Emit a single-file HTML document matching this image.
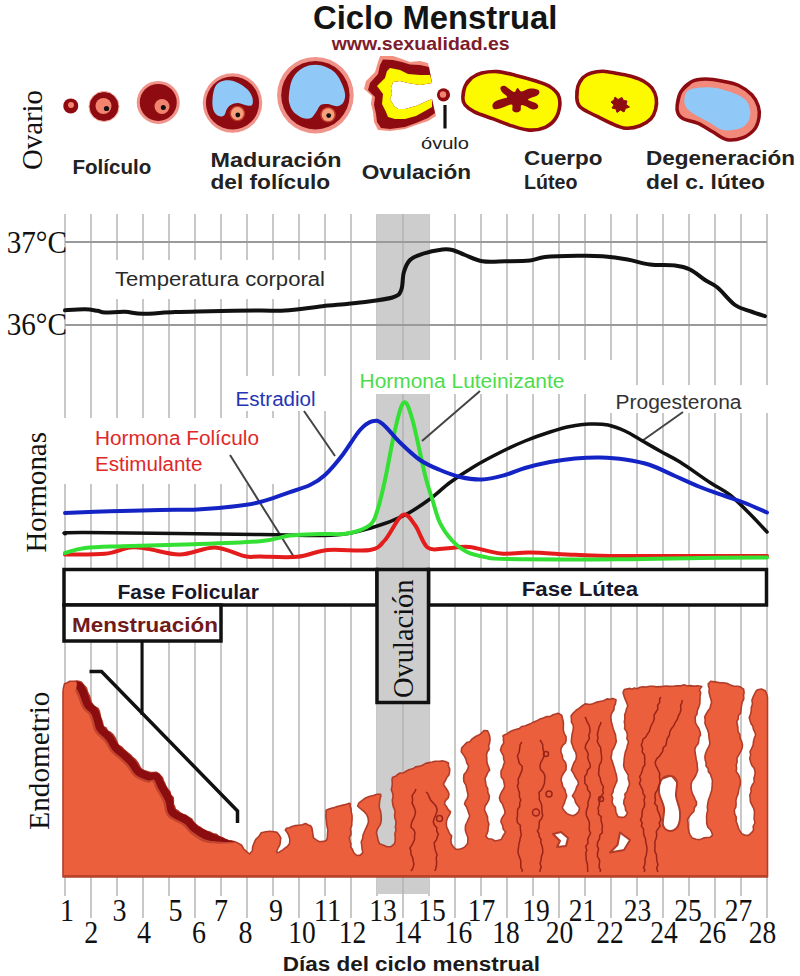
<!DOCTYPE html>
<html><head><meta charset="utf-8"><style>html,body{margin:0;padding:0;background:#fff;}svg{display:block;}</style></head>
<body><svg width="800" height="976" viewBox="0 0 800 976">
<rect width="800" height="976" fill="#fff"/>
<g stroke="#c6c6c6" stroke-width="1.9">
<line x1="65" y1="214" x2="65" y2="896"/>
<line x1="91" y1="214" x2="91" y2="918"/>
<line x1="117" y1="214" x2="117" y2="896"/>
<line x1="143" y1="214" x2="143" y2="918"/>
<line x1="169" y1="214" x2="169" y2="896"/>
<line x1="195" y1="214" x2="195" y2="918"/>
<line x1="221" y1="214" x2="221" y2="896"/>
<line x1="247" y1="214" x2="247" y2="918"/>
<line x1="273" y1="214" x2="273" y2="896"/>
<line x1="299" y1="214" x2="299" y2="918"/>
<line x1="325" y1="214" x2="325" y2="896"/>
<line x1="351" y1="214" x2="351" y2="918"/>
<line x1="377" y1="214" x2="377" y2="896"/>
<line x1="403" y1="214" x2="403" y2="918"/>
<line x1="429" y1="214" x2="429" y2="896"/>
<line x1="455" y1="214" x2="455" y2="918"/>
<line x1="481" y1="214" x2="481" y2="896"/>
<line x1="507" y1="214" x2="507" y2="918"/>
<line x1="533" y1="214" x2="533" y2="896"/>
<line x1="559" y1="214" x2="559" y2="918"/>
<line x1="585" y1="214" x2="585" y2="896"/>
<line x1="611" y1="214" x2="611" y2="918"/>
<line x1="637" y1="214" x2="637" y2="896"/>
<line x1="663" y1="214" x2="663" y2="918"/>
<line x1="689" y1="214" x2="689" y2="896"/>
<line x1="715" y1="214" x2="715" y2="918"/>
<line x1="741" y1="214" x2="741" y2="896"/>
<line x1="767" y1="214" x2="767" y2="918"/>
</g>
<rect x="377" y="214" width="52" height="146" fill="#cdcdcd"/>
<rect x="377" y="394" width="52" height="500" fill="#cdcdcd"/>
<line x1="403" y1="214" x2="403" y2="894" stroke="#b4b4b4" stroke-width="1.6"/>
<g fill="#fff">
<rect x="355" y="360" width="270" height="34"/>
<rect x="230" y="376" width="100" height="35"/>
<rect x="62" y="418" width="224" height="66"/>
<rect x="600" y="385" width="172" height="28"/>
<rect x="105" y="260" width="236" height="39"/>
</g>
<line x1="65" y1="242" x2="767" y2="242" stroke="#9a9a9a" stroke-width="2.2"/>
<line x1="65" y1="325" x2="767" y2="325" stroke="#9a9a9a" stroke-width="2.2"/>
<path d="M65.0,310.3 C68.3,310.1 79.6,309.2 85.0,309.3 C90.4,309.4 94.2,310.3 97.5,310.8 C100.8,311.3 100.4,312.3 105.0,312.5 C109.6,312.7 118.8,311.6 125.0,311.8 C131.2,312.0 134.2,313.7 142.5,313.8 C150.8,313.8 163.8,312.4 175.0,312.0 C186.2,311.6 195.8,311.5 210.0,311.2 C224.2,311.0 247.5,310.6 260.0,310.5 C272.5,310.4 274.6,311.2 285.0,310.5 C295.4,309.8 310.0,307.6 322.5,306.2 C335.0,304.9 348.3,304.0 360.0,302.5 C371.7,301.0 385.6,299.6 392.5,297.5 C399.4,295.4 399.4,294.2 401.2,290.0 C403.1,285.8 402.3,277.5 403.8,272.5 C405.2,267.5 406.9,263.1 410.0,260.0 C413.1,256.9 417.1,255.5 422.5,253.8 C427.9,252.0 437.5,250.1 442.5,249.5 C447.5,248.9 448.8,249.1 452.5,250.0 C456.2,250.9 460.0,253.1 465.0,255.0 C470.0,256.9 475.8,260.2 482.5,261.2 C489.2,262.3 497.1,261.4 505.0,261.2 C512.9,261.1 523.3,261.2 530.0,260.5 C536.7,259.8 537.1,257.8 545.0,257.0 C552.9,256.2 567.9,255.9 577.5,255.8 C587.1,255.6 594.2,255.6 602.5,256.2 C610.8,256.9 619.6,258.1 627.5,259.5 C635.4,260.9 642.1,263.5 650.0,264.5 C657.9,265.5 668.3,264.7 675.0,265.5 C681.7,266.3 685.0,267.1 690.0,269.5 C695.0,271.9 700.4,277.0 705.0,280.0 C709.6,283.0 712.5,283.3 717.5,287.5 C722.5,291.7 729.6,301.0 735.0,305.0 C740.4,309.0 745.0,309.4 750.0,311.2 C755.0,313.1 762.5,315.4 765.0,316.2" fill="none" stroke="#111" stroke-width="4" stroke-linecap="round" stroke-linejoin="round"/>
<g stroke="#444" stroke-width="2">
<line x1="304" y1="411" x2="335" y2="456"/>
<line x1="230" y1="455" x2="294" y2="557"/>
<line x1="480" y1="391" x2="422" y2="441"/>
<line x1="683" y1="412" x2="642" y2="441"/>
</g>
<path d="M65.0,533.8 C68.3,533.5 52.5,532.4 85.0,532.5 C117.5,532.6 218.3,534.1 260.0,534.5 C301.7,534.9 316.2,536.2 335.0,535.0 C353.8,533.8 360.8,530.8 372.5,527.5 C384.2,524.2 395.4,519.8 405.0,515.0 C414.6,510.2 422.5,504.4 430.0,499.0 C437.5,493.6 442.5,488.0 450.0,482.5 C457.5,477.0 466.7,471.0 475.0,466.0 C483.3,461.0 491.7,456.7 500.0,452.5 C508.3,448.3 516.7,444.4 525.0,441.0 C533.3,437.6 542.5,434.4 550.0,432.0 C557.5,429.6 563.3,427.8 570.0,426.5 C576.7,425.2 583.7,424.2 590.0,424.0 C596.3,423.8 602.2,423.8 608.0,425.0 C613.8,426.2 619.7,428.6 625.0,431.0 C630.3,433.4 634.2,436.2 640.0,439.5 C645.8,442.8 653.3,447.2 660.0,451.0 C666.7,454.8 671.7,456.8 680.0,462.0 C688.3,467.2 701.7,477.0 710.0,482.5 C718.3,488.0 723.3,489.8 730.0,495.0 C736.7,500.2 743.8,507.8 750.0,514.0 C756.2,520.2 764.2,529.0 767.0,532.0" fill="none" stroke="#111" stroke-width="3.5" stroke-linecap="round" stroke-linejoin="round"/>
<path d="M65.0,554.5 C71.7,554.4 94.2,554.9 105.0,553.8 C115.8,552.6 122.9,548.3 130.0,547.5 C137.1,546.7 139.2,547.6 147.5,548.8 C155.8,549.9 168.8,554.7 180.0,554.5 C191.2,554.3 204.2,547.2 215.0,547.5 C225.8,547.8 237.5,554.8 245.0,556.2 C252.5,557.8 251.2,556.4 260.0,556.5 C268.8,556.6 286.2,557.8 297.5,556.8 C308.8,555.7 315.4,551.1 327.5,550.0 C339.6,548.9 360.4,551.7 370.0,550.0 C379.6,548.3 379.6,545.8 385.0,540.0 C390.4,534.2 397.5,517.5 402.5,515.0 C407.5,512.5 410.8,519.6 415.0,525.0 C419.2,530.4 422.5,543.6 427.5,547.5 C432.5,551.4 438.1,548.6 445.0,548.5 C451.9,548.4 459.7,546.2 469.0,547.0 C478.3,547.8 490.6,552.6 500.8,553.5 C510.9,554.4 517.6,552.3 530.0,552.5 C542.4,552.7 560.0,554.2 575.0,554.8 C590.0,555.3 588.0,555.8 620.0,556.0 C652.0,556.2 742.5,556.0 767.0,556.0" fill="none" stroke="#e41c1c" stroke-width="4" stroke-linecap="round" stroke-linejoin="round"/>
<path d="M65.0,553.0 C68.3,552.2 75.4,549.1 85.0,548.0 C94.6,546.9 105.8,546.8 122.5,546.2 C139.2,545.7 162.1,545.3 185.0,544.5 C207.9,543.7 242.5,542.8 260.0,541.2 C277.5,539.8 280.0,536.7 290.0,535.5 C300.0,534.3 310.4,534.3 320.0,534.0 C329.6,533.7 339.2,535.0 347.5,533.5 C355.8,532.0 365.0,528.9 370.0,525.0 C375.0,521.1 375.0,517.5 377.5,510.0 C380.0,502.5 382.1,493.3 385.0,480.0 C387.9,466.7 391.9,442.9 395.0,430.0 C398.1,417.1 400.8,404.2 403.8,402.5 C406.7,400.8 409.0,407.9 412.5,420.0 C416.0,432.1 421.7,461.7 425.0,475.0 C428.3,488.3 430.0,492.0 432.5,500.0 C435.0,508.0 436.7,516.2 440.0,523.0 C443.3,529.8 448.0,536.2 452.5,541.0 C457.0,545.8 461.6,549.3 467.0,552.0 C472.4,554.7 478.2,555.8 485.0,557.0 C491.8,558.2 485.0,558.6 507.5,559.0 C530.0,559.4 587.9,559.4 620.0,559.2 C652.1,559.1 675.5,558.3 700.0,558.0 C724.5,557.7 755.8,557.6 767.0,557.5" fill="none" stroke="#33e033" stroke-width="4" stroke-linecap="round" stroke-linejoin="round"/>
<path d="M65.0,513.0 C72.5,512.7 94.2,511.8 110.0,511.2 C125.8,510.8 145.4,510.3 160.0,510.0 C174.6,509.7 185.0,510.1 197.5,509.5 C210.0,508.9 224.6,507.5 235.0,506.2 C245.4,505.0 251.7,504.1 260.0,502.0 C268.3,499.9 276.7,496.6 285.0,493.8 C293.3,490.9 303.3,488.1 310.0,485.0 C316.7,481.9 319.6,480.0 325.0,475.0 C330.4,470.0 336.7,462.5 342.5,455.0 C348.3,447.5 355.0,435.6 360.0,430.0 C365.0,424.4 368.8,422.3 372.5,421.2 C376.2,420.2 377.9,420.2 382.5,423.8 C387.1,427.3 393.8,436.5 400.0,442.5 C406.2,448.5 413.3,455.4 420.0,460.0 C426.7,464.6 433.3,467.2 440.0,470.0 C446.7,472.8 453.0,475.4 460.0,477.0 C467.0,478.6 474.5,479.8 482.0,479.5 C489.5,479.2 497.8,476.9 505.0,475.0 C512.2,473.1 517.5,470.2 525.0,468.0 C532.5,465.8 541.7,463.6 550.0,462.0 C558.3,460.4 566.7,459.2 575.0,458.5 C583.3,457.8 591.7,457.3 600.0,457.5 C608.3,457.7 616.7,458.2 625.0,459.5 C633.3,460.8 641.7,462.2 650.0,465.0 C658.3,467.8 666.7,472.3 675.0,476.0 C683.3,479.7 691.7,483.7 700.0,487.0 C708.3,490.3 717.5,493.3 725.0,496.0 C732.5,498.7 738.0,500.2 745.0,503.0 C752.0,505.8 763.3,510.9 767.0,512.5" fill="none" stroke="#1424c4" stroke-width="4" stroke-linecap="round" stroke-linejoin="round"/>
<g stroke="#111" stroke-width="3.5" fill="#fff">
<rect x="64" y="569.5" width="313" height="35.5"/>
<rect x="428.5" y="569.5" width="338" height="35.5"/>
<rect x="64" y="605" width="157" height="36"/>
<rect x="377" y="569.5" width="51.5" height="133" fill="#cdcdcd"/>
</g>
<line x1="142" y1="641" x2="142" y2="715" stroke="#111" stroke-width="3"/>
<polyline points="89.5,671.5 101.5,671.5 237.5,811 237.5,823" fill="none" stroke="#111" stroke-width="3.5"/>
<text x="117.5" y="598.5" font-family='"Liberation Sans", sans-serif' font-size="20.5" font-weight="bold" fill="#17172a" text-anchor="start" textLength="141.5" lengthAdjust="spacingAndGlyphs" >Fase Folicular</text>
<text x="521.7" y="595.7" font-family='"Liberation Sans", sans-serif' font-size="20.5" font-weight="bold" fill="#17172a" text-anchor="start" textLength="116.5" lengthAdjust="spacingAndGlyphs" >Fase Lútea</text>
<text x="72" y="632.3" font-family='"Liberation Sans", sans-serif' font-size="21" font-weight="bold" fill="#701a1a" text-anchor="start" textLength="146" lengthAdjust="spacingAndGlyphs" >Menstruación</text>
<text transform="translate(412.5,698) rotate(-90)" x="0" y="0" font-family='"Liberation Serif", serif' font-size="30" fill="#111" textLength="118.5" lengthAdjust="spacingAndGlyphs">Ovulación</text>
<path d="M63.0,692.0 L63.4,688.1 L64.5,683.7 L67.2,682.8 L69.9,681.3 L73.7,681.3 L77.5,681.0 L81.2,682.0 L83.7,685.0 L86.4,688.0 L87.6,692.5 L89.3,695.6 L90.4,699.1 L91.3,702.4 L94.0,706.1 L98.0,708.4 L99.4,711.3 L100.0,714.6 L100.6,717.7 L101.8,720.4 L102.7,723.3 L103.1,726.6 L106.1,727.9 L107.5,731.0 L110.6,732.5 L113.0,734.7 L115.2,738.0 L116.8,741.6 L118.4,745.3 L121.9,747.3 L124.5,750.2 L127.4,752.7 L130.3,754.8 L132.6,757.5 L135.5,759.6 L137.7,762.6 L139.4,765.9 L141.1,769.0 L144.0,770.4 L147.1,771.4 L150.0,772.6 L153.1,772.6 L156.3,772.2 L158.7,773.9 L160.4,775.6 L162.5,777.8 L163.4,781.0 L165.0,784.0 L166.0,786.8 L167.8,789.4 L170.0,791.9 L170.6,795.2 L173.1,797.3 L173.4,800.7 L173.2,803.9 L174.6,806.7 L175.5,809.5 L178.0,810.7 L180.2,813.0 L183.2,814.5 L186.4,815.6 L188.6,817.5 L191.6,819.0 L193.2,821.7 L195.3,823.9 L197.9,826.1 L200.6,827.5 L203.2,829.6 L206.2,831.2 L209.7,832.0 L212.9,833.7 L216.2,834.2 L219.0,836.5 L222.4,837.8 L225.4,839.6 L228.4,840.5 L231.1,840.7 L235.5,841.9 L238.1,843.2 L241.7,845.3 L243.8,849.0 L247.1,852.1 L249.4,854.0 L250.1,853.2 L252.4,850.7 L252.6,847.0 L254.1,842.9 L255.8,839.4 L259.0,836.2 L261.3,832.7 L265.6,831.8 L269.9,831.3 L273.9,831.7 L277.1,832.4 L278.9,834.7 L280.8,838.0 L280.4,841.1 L279.9,844.7 L278.4,847.5 L276.7,851.0 L277.1,852.8 L279.0,852.2 L282.5,850.1 L284.9,848.2 L287.7,846.1 L289.6,843.6 L289.8,839.4 L288.8,835.7 L287.2,832.4 L285.3,829.9 L286.5,828.3 L289.3,827.7 L291.9,826.5 L295.3,825.6 L298.8,825.2 L302.2,824.8 L305.6,823.5 L308.3,825.0 L310.7,825.8 L311.9,828.0 L312.4,831.0 L313.0,834.8 L313.5,837.9 L316.3,839.9 L319.4,841.7 L323.3,841.4 L326.3,840.4 L327.3,838.2 L327.5,834.5 L327.8,829.9 L327.2,827.1 L326.6,823.6 L326.3,819.8 L325.8,816.2 L326.1,813.0 L326.1,810.2 L329.6,808.8 L333.2,807.9 L337.1,806.6 L340.3,805.8 L343.9,804.9 L347.1,804.0 L349.4,803.2 L350.4,803.9 L350.0,806.0 L351.0,808.4 L351.2,811.6 L352.0,815.3 L352.1,819.1 L351.8,822.5 L351.7,825.7 L350.4,828.7 L351.0,831.9 L350.9,834.8 L349.3,837.5 L350.0,840.9 L350.9,844.0 L350.7,847.1 L352.2,849.1 L354.0,853.0 L356.8,855.5 L360.4,855.1 L362.8,852.6 L362.2,849.6 L361.8,845.8 L361.2,842.0 L362.7,838.4 L363.1,834.7 L364.4,831.7 L365.9,828.4 L367.3,825.4 L368.4,822.3 L368.2,818.4 L366.8,814.7 L364.7,812.2 L362.1,809.8 L359.6,807.8 L357.6,806.0 L359.0,802.8 L362.9,799.8 L365.5,798.0 L369.2,796.5 L373.3,795.5 L376.9,794.3 L379.5,794.3 L380.6,794.4 L380.8,796.3 L379.9,799.2 L379.4,803.2 L379.3,807.5 L380.4,810.7 L381.0,814.2 L381.3,817.7 L381.2,821.1 L380.4,824.3 L378.6,827.1 L377.0,830.0 L376.5,833.0 L377.4,836.9 L378.2,840.7 L379.6,843.8 L383.5,845.2 L387.0,846.8 L391.1,846.6 L394.4,843.8 L395.2,841.0 L395.2,837.5 L394.9,833.7 L396.0,830.0 L395.3,827.1 L395.9,824.2 L396.0,821.2 L394.9,818.2 L394.6,815.0 L395.2,812.1 L394.4,809.1 L393.1,806.2 L392.6,803.1 L392.3,800.0 L393.1,796.9 L392.7,793.4 L391.3,789.8 L392.1,786.1 L392.3,783.0 L392.0,780.5 L392.4,777.6 L396.0,776.1 L397.7,774.4 L400.1,773.0 L403.6,772.9 L406.4,771.0 L409.5,769.5 L412.8,768.8 L415.5,766.9 L419.0,766.4 L422.5,765.3 L425.7,763.4 L429.1,762.6 L432.2,762.0 L434.9,761.3 L439.4,761.3 L442.9,760.9 L445.5,761.6 L448.4,762.9 L448.4,766.2 L449.7,768.6 L449.6,771.8 L448.9,775.0 L446.8,777.6 L445.2,781.0 L443.3,784.0 L445.3,787.3 L447.7,790.7 L449.0,794.0 L448.3,797.8 L445.3,800.9 L444.5,804.0 L446.2,806.2 L448.0,809.4 L450.5,811.9 L449.5,814.7 L447.7,817.6 L446.5,820.9 L446.3,824.0 L446.7,827.1 L448.2,830.3 L449.5,833.5 L451.6,835.9 L450.9,840.4 L451.4,843.9 L453.3,846.8 L455.9,849.4 L459.5,849.3 L463.1,848.1 L465.4,846.3 L467.6,843.5 L467.9,840.0 L467.8,837.2 L466.6,834.2 L465.5,831.1 L465.3,828.0 L465.6,825.0 L467.1,822.0 L468.4,819.0 L469.7,816.0 L468.7,812.9 L467.6,809.8 L466.4,806.8 L464.6,804.0 L465.5,801.1 L467.2,798.4 L468.1,795.3 L467.4,792.0 L466.7,788.8 L465.9,785.0 L463.9,781.6 L463.6,778.0 L464.0,774.6 L466.2,771.9 L467.8,769.0 L468.6,766.0 L466.7,762.6 L465.9,759.0 L464.2,755.9 L461.3,751.9 L461.6,748.1 L463.2,746.3 L466.7,742.6 L469.8,741.8 L472.2,738.8 L475.6,736.5 L479.3,734.8 L482.0,732.7 L483.9,730.5 L487.6,730.9 L489.0,734.0 L489.7,736.3 L490.0,739.4 L489.6,742.8 L488.6,745.9 L489.1,749.2 L487.2,752.0 L486.5,755.0 L486.8,758.0 L486.8,760.9 L487.4,764.1 L488.6,767.0 L489.7,770.0 L487.6,772.7 L486.5,775.7 L484.9,778.6 L485.6,782.0 L486.0,785.3 L487.7,788.6 L487.9,792.6 L489.4,796.0 L488.9,799.7 L487.1,803.0 L485.0,806.3 L484.5,810.0 L486.0,813.4 L487.5,816.9 L487.7,820.8 L488.9,824.0 L488.2,827.3 L488.0,830.8 L487.0,833.8 L485.7,836.1 L488.3,838.7 L492.1,839.3 L495.0,841.0 L498.3,840.2 L501.3,839.4 L503.2,835.7 L505.6,832.0 L503.3,829.3 L502.6,825.4 L500.9,822.0 L501.4,819.1 L503.1,816.2 L505.1,813.3 L504.6,810.0 L503.6,807.2 L502.5,804.0 L500.4,801.2 L499.4,798.0 L500.3,794.8 L501.8,791.6 L503.7,788.8 L504.7,786.0 L504.1,783.1 L503.4,779.8 L501.3,777.1 L501.0,774.0 L501.1,770.8 L502.8,767.9 L503.6,764.8 L504.6,762.0 L503.7,759.2 L503.4,755.7 L501.8,752.8 L500.5,750.0 L501.6,746.3 L503.7,743.1 L503.4,740.0 L503.5,737.6 L502.9,735.9 L504.7,734.7 L507.4,733.7 L510.3,731.5 L514.0,730.0 L516.5,729.2 L519.2,728.6 L521.6,726.5 L524.9,726.0 L527.9,724.7 L530.9,723.4 L533.9,721.9 L536.9,720.7 L539.9,719.1 L543.3,717.9 L546.7,716.6 L550.3,716.5 L553.1,714.8 L555.8,713.9 L558.0,713.3 L561.7,715.2 L562.4,718.1 L563.0,720.5 L563.5,723.6 L563.3,727.0 L563.3,729.9 L564.1,733.4 L566.0,736.4 L566.1,740.0 L565.4,743.0 L562.7,745.4 L561.0,748.5 L560.9,752.0 L562.2,755.2 L562.8,759.2 L565.5,762.4 L566.2,766.0 L566.0,769.7 L563.7,773.0 L561.8,776.4 L561.0,780.0 L562.0,783.0 L562.7,786.5 L564.9,789.5 L565.8,792.9 L566.7,796.0 L565.5,799.4 L564.5,802.9 L563.1,805.7 L562.3,807.9 L564.2,810.7 L567.0,813.6 L570.0,815.0 L573.4,815.7 L576.1,814.2 L578.6,811.8 L579.6,808.0 L577.7,805.5 L575.6,802.5 L574.6,798.8 L572.4,796.0 L574.1,793.2 L575.7,790.2 L576.6,786.9 L578.5,784.0 L577.9,781.1 L576.1,778.4 L574.5,775.5 L573.2,772.7 L571.4,770.0 L572.5,766.5 L573.9,763.0 L575.9,759.7 L576.5,756.0 L575.7,752.3 L573.7,748.9 L572.5,745.3 L571.3,742.0 L571.6,738.5 L572.0,734.7 L572.8,731.2 L573.4,728.0 L573.1,724.9 L571.4,722.0 L571.4,718.7 L571.1,716.0 L573.0,713.3 L575.9,710.5 L579.3,708.1 L582.0,706.0 L585.1,703.9 L590.1,704.5 L592.7,703.7 L596.0,702.4 L599.7,701.5 L603.6,700.7 L607.0,698.9 L610.3,699.4 L612.6,698.4 L616.0,699.8 L615.4,704.1 L614.1,706.4 L613.9,709.7 L611.9,712.8 L610.6,716.4 L611.0,720.0 L611.6,722.8 L612.4,725.8 L613.3,728.9 L614.3,731.9 L615.5,734.9 L615.8,738.0 L616.3,741.4 L615.2,744.7 L613.8,748.0 L611.9,751.2 L611.6,754.7 L610.9,758.0 L612.2,761.1 L613.2,764.4 L614.3,767.8 L615.2,771.3 L616.2,774.4 L616.7,777.5 L617.0,780.6 L615.8,783.5 L614.6,786.4 L613.4,789.3 L613.0,792.2 L611.4,795.0 L612.7,798.0 L612.0,801.5 L613.0,804.7 L615.4,807.3 L615.7,810.3 L616.0,812.7 L618.1,816.8 L621.0,817.4 L624.3,817.2 L626.6,814.8 L627.5,812.7 L625.6,810.2 L625.2,806.8 L623.7,803.5 L624.0,800.0 L625.2,797.4 L624.9,794.1 L627.1,791.5 L627.8,788.3 L629.3,785.3 L629.3,782.0 L628.2,778.9 L628.3,775.3 L626.5,772.1 L624.6,769.0 L623.6,765.5 L624.0,762.0 L624.2,758.7 L624.7,755.3 L625.4,751.8 L626.7,748.6 L627.4,745.3 L628.5,742.0 L626.9,738.7 L627.4,735.1 L626.6,731.6 L624.5,728.5 L625.0,725.0 L624.3,722.0 L624.9,718.6 L624.7,715.1 L625.7,712.0 L626.5,708.9 L627.8,706.0 L626.5,702.2 L624.8,698.5 L623.7,695.1 L623.1,692.4 L624.3,689.5 L629.9,688.4 L632.1,689.2 L634.3,688.0 L637.1,688.7 L639.9,687.2 L643.0,686.9 L646.3,687.0 L649.7,686.2 L653.1,686.2 L656.6,686.9 L660.0,686.6 L663.0,686.4 L666.2,686.0 L669.7,686.4 L673.3,686.3 L676.9,685.7 L680.5,685.9 L684.0,684.8 L687.3,686.0 L690.4,685.6 L693.2,686.1 L695.6,686.1 L697.6,685.7 L701.8,686.5 L699.3,689.9 L700.7,692.7 L700.0,696.3 L700.0,700.2 L699.8,704.1 L698.6,707.4 L697.3,710.7 L697.0,714.1 L695.2,716.8 L695.3,720.0 L695.5,722.8 L697.0,725.6 L698.8,728.5 L700.0,731.7 L700.5,735.0 L699.0,737.6 L698.8,740.6 L698.1,743.8 L695.9,746.4 L694.8,749.4 L695.1,752.5 L695.7,755.9 L696.2,759.4 L697.1,762.9 L697.3,766.5 L697.7,770.1 L696.7,773.0 L695.5,776.0 L693.7,778.7 L691.9,781.4 L691.1,784.5 L691.1,787.5 L691.5,790.4 L692.3,793.4 L693.8,796.3 L695.1,799.3 L696.5,802.1 L696.4,805.0 L694.4,807.9 L693.8,811.5 L691.1,814.1 L689.0,816.9 L687.4,819.9 L688.1,823.2 L688.1,826.5 L688.5,829.7 L689.1,832.7 L690.1,834.9 L692.3,838.1 L696.1,839.2 L700.0,839.6 L703.2,838.1 L706.8,837.5 L710.4,837.2 L712.6,835.2 L711.8,832.8 L710.6,830.0 L707.9,827.3 L706.7,823.6 L706.7,819.9 L706.5,817.0 L706.9,813.8 L707.7,810.5 L707.3,806.8 L707.8,803.3 L708.5,799.9 L709.7,796.7 L710.7,793.4 L711.8,790.1 L712.1,786.7 L712.3,783.3 L712.4,780.0 L711.4,777.2 L710.5,774.3 L708.4,771.7 L708.1,768.4 L706.0,765.9 L706.1,762.7 L705.2,760.0 L704.9,756.6 L705.6,753.2 L707.0,749.9 L708.8,746.7 L709.9,743.4 L709.4,740.0 L708.9,736.8 L708.7,733.2 L707.6,729.8 L706.1,726.5 L704.9,723.3 L705.2,720.0 L704.7,716.8 L706.2,713.9 L707.8,711.1 L709.9,708.6 L710.6,705.5 L711.6,702.6 L710.9,699.3 L709.9,695.9 L709.0,692.3 L709.3,688.8 L708.5,686.1 L708.2,683.8 L710.7,681.3 L715.0,681.9 L720.0,682.8 L723.0,682.8 L726.7,683.3 L730.4,684.9 L734.0,686.2 L737.6,686.2 L740.3,686.8 L743.6,689.1 L744.1,692.5 L743.6,695.2 L743.8,698.8 L742.1,702.5 L741.4,706.4 L741.0,710.0 L740.6,713.2 L738.3,715.7 L738.3,718.8 L736.7,721.6 L737.4,725.0 L737.9,727.9 L738.0,731.4 L739.9,734.6 L740.1,738.4 L741.7,741.6 L742.5,745.0 L742.0,748.4 L740.6,751.7 L738.8,754.9 L737.0,758.1 L737.1,761.8 L736.2,765.0 L736.6,768.2 L736.2,771.7 L738.5,774.5 L739.7,777.8 L740.4,781.3 L740.2,785.0 L739.1,787.8 L738.6,790.9 L738.0,794.1 L736.7,797.3 L735.9,800.6 L736.1,804.0 L735.8,807.1 L734.3,810.0 L734.7,813.8 L736.3,817.4 L736.1,821.2 L737.4,824.5 L738.3,827.5 L739.2,829.9 L742.2,834.1 L745.1,835.2 L748.6,835.4 L751.8,832.4 L753.6,830.1 L753.1,826.5 L755.0,822.9 L754.1,818.9 L754.3,815.0 L754.5,811.7 L753.7,808.4 L752.0,805.2 L750.4,801.9 L750.2,798.4 L749.8,795.0 L751.1,791.8 L750.9,788.2 L752.3,784.9 L754.3,781.9 L753.9,778.2 L754.9,775.0 L755.1,771.6 L754.1,768.2 L751.8,765.2 L750.6,761.9 L749.7,758.5 L750.7,755.0 L750.0,751.6 L751.7,748.4 L753.1,745.1 L753.5,741.4 L754.3,738.1 L755.7,735.0 L754.8,732.0 L753.4,729.3 L752.9,726.3 L751.1,723.7 L750.1,720.8 L749.2,717.5 L750.5,714.4 L751.2,711.0 L751.3,707.4 L752.5,703.9 L751.9,700.2 L753.0,697.3 L754.0,695.0 L756.2,690.8 L757.7,689.7 L761.4,689.0 L765.3,690.7 L766.8,694.3 L767.5,697.5 L767.5,877 L63,877 Z" fill="#eb5f3d" stroke="#b13c28" stroke-width="1.6" stroke-linejoin="round"/>
<path d="M662.0,779.0 C663.5,778.5 668.5,775.5 671.0,776.0 C673.5,776.5 676.2,778.7 677.0,782.0 C677.8,785.3 675.5,791.0 676.0,796.0 C676.5,801.0 679.7,807.0 680.0,812.0 C680.3,817.0 679.7,822.8 678.0,826.0 C676.3,829.2 672.5,831.2 670.0,831.0 C667.5,830.8 664.0,828.8 663.0,825.0 C662.0,821.2 664.7,813.5 664.0,808.0 C663.3,802.5 659.3,796.8 659.0,792.0 C658.7,787.2 660.0,781.7 662.0,779.0 C664.0,776.3 668.5,775.5 671.0,776.0 C673.5,776.5 676.0,781.0 677.0,782.0" fill="#fff" stroke="#b13c28" stroke-width="2"/>
<path d="M620,832.5 L630,840 L624,850 L610,852.5 L617.5,845 Z" fill="#fff" stroke="#b13c28" stroke-width="2" stroke-linejoin="round"/>
<path d="M553,834 L561,832 L568,838 L566,846 L557,847 L560,841 Z" fill="#fff" stroke="#b13c28" stroke-width="2" stroke-linejoin="round"/>
<g fill="none" stroke="#9a2418" stroke-width="1.5">
<path d="M416.0,789.0 L414.7,791.8 L412.1,795.6 L412.6,800.0 L412.1,803.1 L413.6,806.1 L414.8,809.2 L415.5,812.0 L415.0,814.9 L413.8,818.2 L412.2,821.1 L411.3,824.0 L411.0,827.2 L413.8,829.6 L415.0,832.8 L414.5,836.0 L414.6,839.2 L413.3,842.4 L411.7,845.4 L409.9,848.0 L410.9,850.9 L411.0,854.5 L412.6,857.3 L413.0,860.0 L413.9,864.3 L412.8,868.5 L411.0,871.0"/>
<path d="M426.0,792.0 L427.9,793.6 L429.1,796.9 L430.7,800.2 L433.3,803.0 L436.1,806.2 L437.2,810.0 L436.5,812.8 L435.3,815.8 L434.0,818.8 L433.3,822.0 L434.4,825.1 L436.8,827.7 L436.7,831.2 L438.4,834.0 L437.3,837.0 L436.3,840.1 L434.2,842.8 L434.6,846.0 L434.9,848.9 L435.9,851.8 L437.1,854.8 L436.2,858.0 L436.6,861.5 L436.5,865.3 L435.7,868.7 L435.0,871.0"/>
<path d="M522.0,742.0 L520.2,744.2 L519.7,748.1 L519.1,752.3 L517.4,756.0 L518.4,759.5 L519.2,763.2 L522.2,766.2 L522.1,770.0 L520.8,772.9 L519.6,776.1 L518.0,779.3 L518.5,783.1 L517.4,786.0 L518.3,789.4 L519.5,792.8 L519.4,796.7 L520.8,800.0 L519.7,802.9 L519.8,806.3 L517.7,809.3 L517.5,812.8 L517.5,816.0 L516.9,819.3 L517.5,822.7 L520.3,825.3 L520.3,828.8 L520.8,832.0 L521.3,835.2 L520.2,838.1 L519.7,841.2 L518.8,844.4 L518.5,848.0 L518.0,850.8 L518.3,854.0 L519.7,857.4 L520.8,860.8 L520.8,864.3 L520.8,867.6 L522.3,870.0 L522.0,872.0"/>
<path d="M540.0,740.0 L541.3,742.0 L542.8,744.9 L542.9,748.7 L543.9,752.0 L544.2,755.6 L542.7,759.2 L540.8,762.5 L539.9,766.0 L540.6,769.6 L543.4,772.5 L545.0,776.1 L544.6,780.0 L544.5,783.1 L543.3,786.4 L541.6,789.7 L538.9,792.5 L539.4,796.0 L539.2,799.2 L540.6,802.3 L541.7,805.5 L541.9,809.0 L542.0,812.0 L542.7,815.2 L541.8,818.5 L539.4,821.3 L539.1,824.8 L539.0,828.1 L537.4,830.9 L539.0,833.5 L539.2,836.6 L541.0,839.3 L540.8,842.7 L542.1,846.0 L542.7,849.1 L542.8,852.6 L541.5,856.3 L541.0,860.1 L540.1,863.7 L541.3,867.2 L540.0,869.9 L540.0,872.0"/>
<path d="M585.0,717.0 L586.1,718.9 L587.1,721.9 L589.1,725.0 L589.9,728.6 L590.0,732.0 L588.8,735.0 L589.4,738.6 L587.5,741.6 L585.8,744.6 L585.1,748.0 L587.0,751.1 L588.2,754.2 L587.8,757.9 L588.7,761.0 L590.0,764.0 L590.3,767.4 L587.4,770.1 L586.9,773.7 L584.7,776.6 L584.8,780.0 L584.9,783.4 L587.3,786.1 L587.6,789.8 L590.0,792.6 L590.2,796.0 L589.0,799.0 L588.0,802.1 L588.1,805.7 L587.0,808.8 L586.2,812.0 L586.3,814.9 L587.3,817.7 L588.7,820.5 L589.5,823.6 L589.3,826.9 L589.2,830.0 L590.6,833.3 L588.9,836.4 L587.6,839.6 L588.1,843.3 L585.7,846.4 L586.8,850.0 L585.8,853.2 L586.1,856.8 L586.3,860.5 L587.4,864.0 L587.6,867.2 L587.6,870.0 L588.0,872.0"/>
<path d="M601.0,722.0 L600.5,724.2 L599.0,727.1 L598.2,730.8 L597.4,734.5 L598.0,738.0 L597.3,741.4 L598.8,744.7 L600.7,748.0 L600.9,751.7 L601.4,755.0 L601.7,758.4 L601.2,762.0 L599.4,765.1 L599.1,768.7 L598.7,772.0 L598.6,774.9 L600.1,777.7 L600.7,780.9 L601.7,784.0 L603.5,786.8 L602.7,790.0 L603.4,793.2 L601.3,795.8 L600.0,798.8 L599.3,802.0 L599.2,805.2 L598.0,808.0 L598.6,810.9 L598.4,814.2 L601.2,816.6 L601.0,820.1 L601.7,823.1 L602.5,826.0 L602.0,829.0 L602.4,832.5 L599.8,835.2 L599.5,838.8 L597.7,842.1 L597.2,845.9 L598.6,849.1 L597.5,852.7 L597.5,856.5 L599.6,860.2 L599.4,863.9 L599.0,867.2 L600.5,869.9 L600.0,872.0"/>
<path d="M661.0,697.0 L659.6,698.8 L659.8,702.1 L657.6,705.2 L657.8,709.1 L656.0,712.0 L654.0,715.2 L654.3,718.9 L653.0,722.3 L651.0,726.0 L650.1,728.6 L649.2,731.6 L647.3,734.2 L645.8,737.0 L643.0,739.2 L642.4,742.2 L641.2,744.9 L642.6,748.4 L642.2,752.0 L644.5,755.0 L644.7,758.6 L644.7,762.0 L644.8,765.0 L642.9,767.6 L642.3,770.8 L641.1,773.8 L639.6,776.7 L640.8,780.0 L639.4,783.4 L641.0,786.6 L642.6,789.8 L643.1,793.4 L645.0,796.5 L644.0,800.0 L644.6,803.3 L644.3,806.7 L642.5,809.7 L642.1,813.2 L641.9,816.6 L640.5,820.0 L642.2,822.8 L641.4,826.1 L643.4,828.7 L643.6,832.0 L643.9,835.3 L645.4,838.4 L645.7,842.0 L646.4,844.8 L647.0,848.0 L646.8,851.4 L646.3,854.9 L645.1,858.4 L645.1,861.8 L644.6,865.0 L643.6,867.7 L644.9,870.2 L644.0,872.0"/>
<path d="M682.0,700.0 L682.1,702.3 L680.6,705.2 L681.0,709.1 L680.1,712.8 L678.3,716.1 L677.3,719.5 L675.2,722.5 L673.7,725.9 L671.4,728.7 L669.8,731.9 L669.3,735.4 L667.3,738.4 L666.5,741.8 L666.0,745.2 L663.2,747.6 L662.8,751.1 L660.9,754.0 L659.1,756.6 L656.6,758.9 L655.3,761.9 L655.5,764.8 L657.0,767.6 L658.3,770.5 L659.8,773.4 L659.4,776.9 L659.9,780.0 L659.9,783.3 L658.4,786.4 L657.5,789.9 L655.4,793.0 L654.9,796.6 L655.5,800.0 L654.6,803.5 L657.2,806.3 L657.4,809.9 L658.9,813.1 L660.1,816.5 L660.9,820.0 L659.2,822.9 L660.0,826.2 L658.0,828.8 L656.3,831.6 L656.8,835.3 L656.0,838.5 L654.8,842.0 L655.0,844.8 L654.9,848.0 L654.8,851.4 L656.4,854.8 L656.6,858.3 L657.0,861.7 L658.0,864.8 L656.7,867.9 L657.2,870.3 L658.0,872.0"/>
<circle cx="439.5" cy="818.5" r="3"/><circle cx="536" cy="812.5" r="3.5"/><circle cx="549" cy="794" r="3"/><circle cx="601" cy="799" r="2.5"/><circle cx="546" cy="754" r="2.5"/>
</g>
<path d="M76.0,681.2 C76.7,681.3 78.7,681.4 80.0,682.0 C81.3,682.6 82.5,683.2 83.8,685.0 C85.0,686.8 86.2,689.6 87.5,692.5 C88.8,695.4 89.6,699.8 91.2,702.5 C92.9,705.2 95.8,706.2 97.5,708.8 C99.2,711.2 100.2,714.6 101.2,717.5 C102.3,720.4 101.9,723.3 103.8,726.2 C105.6,729.2 110.0,731.9 112.5,735.0 C115.0,738.1 116.2,742.1 118.8,745.0 C121.2,747.9 124.8,750.0 127.5,752.5 C130.2,755.0 132.7,757.3 135.0,760.0 C137.3,762.7 138.8,766.7 141.2,768.8 C143.8,770.8 147.0,771.7 150.0,772.5 C153.0,773.3 156.5,771.6 159.0,773.5 C161.5,775.4 162.8,780.0 165.0,784.0 C167.2,788.0 170.8,793.2 172.5,797.5 C174.2,801.8 172.8,806.2 175.5,809.5 C178.2,812.8 185.2,814.2 189.0,817.0 C192.8,819.8 194.0,823.2 198.0,826.0 C202.0,828.8 207.5,831.0 213.0,833.5 C218.5,836.0 228.0,839.8 231.0,841.0 L238.0,843.0 C233.1,843.0 216.3,844.5 208.7,843.1 C201.0,841.7 196.4,837.6 192.1,834.7 C187.7,831.7 186.9,828.5 182.8,825.5 C178.7,822.4 170.8,820.3 167.5,816.3 C164.2,812.3 164.7,806.0 162.8,801.5 C160.9,797.0 157.5,792.4 155.8,789.1 C154.2,785.9 154.0,782.9 152.6,781.8 C151.2,780.7 150.3,783.5 147.3,782.6 C144.3,781.8 137.9,779.5 134.5,776.8 C131.1,774.2 129.3,769.5 127.0,766.8 C124.6,764.0 123.1,762.7 120.4,760.2 C117.7,757.7 113.5,754.9 110.8,751.8 C108.1,748.7 106.9,744.9 104.3,741.6 C101.7,738.2 97.1,735.3 94.9,731.9 C92.8,728.5 92.4,723.9 91.4,721.0 C90.3,718.1 90.3,716.7 88.8,714.6 C87.3,712.4 84.1,711.0 82.3,708.0 C80.5,705.0 79.0,699.5 77.8,696.6 C76.7,693.8 75.6,692.0 75.2,691.1 C74.8,690.2 75.1,692.6 75.4,691.4 C75.7,690.2 76.7,685.2 77.0,684.0 Z" fill="#c2452f"/>
<path d="M76.0,681.2 C76.7,681.3 78.7,681.4 80.0,682.0 C81.3,682.6 82.5,683.2 83.8,685.0 C85.0,686.8 86.2,689.6 87.5,692.5 C88.8,695.4 89.6,699.8 91.2,702.5 C92.9,705.2 95.8,706.2 97.5,708.8 C99.2,711.2 100.2,714.6 101.2,717.5 C102.3,720.4 101.9,723.3 103.8,726.2 C105.6,729.2 110.0,731.9 112.5,735.0 C115.0,738.1 116.2,742.1 118.8,745.0 C121.2,747.9 124.8,750.0 127.5,752.5 C130.2,755.0 132.7,757.3 135.0,760.0 C137.3,762.7 138.8,766.7 141.2,768.8 C143.8,770.8 147.0,771.7 150.0,772.5 C153.0,773.3 156.5,771.6 159.0,773.5 C161.5,775.4 162.8,780.0 165.0,784.0 C167.2,788.0 170.8,793.2 172.5,797.5 C174.2,801.8 172.8,806.2 175.5,809.5 C178.2,812.8 185.2,814.2 189.0,817.0 C192.8,819.8 194.0,823.2 198.0,826.0 C202.0,828.8 207.5,831.0 213.0,833.5 C218.5,836.0 228.0,839.8 231.0,841.0 L236.0,842.0 C231.6,841.8 216.8,842.4 209.7,840.8 C202.6,839.2 197.7,835.5 193.5,832.6 C189.2,829.7 188.3,826.4 184.3,823.5 C180.3,820.5 172.6,818.5 169.4,814.7 C166.2,810.8 167.0,805.0 165.1,800.5 C163.2,796.1 159.9,791.4 158.0,787.9 C156.2,784.5 155.8,781.1 154.1,779.8 C152.4,778.6 150.9,781.1 147.9,780.2 C144.9,779.4 139.3,777.4 136.1,774.9 C133.0,772.4 131.2,767.9 128.9,765.2 C126.6,762.4 124.8,760.9 122.1,758.4 C119.4,755.9 115.3,753.3 112.7,750.2 C110.0,747.1 108.9,743.3 106.3,740.0 C103.6,736.7 99.1,733.9 97.0,730.6 C94.9,727.3 94.7,723.1 93.7,720.2 C92.7,717.3 92.4,715.4 90.8,713.2 C89.3,710.9 86.2,709.6 84.4,706.7 C82.7,703.8 81.3,698.5 80.1,695.7 C78.9,692.8 77.9,690.7 77.2,689.6 C76.6,688.6 76.5,690.1 76.5,689.2 C76.4,688.2 76.9,684.9 77.0,684.0 Z" fill="#8c0d10"/>
<line x1="63" y1="876" x2="767.5" y2="876" stroke="#b84428" stroke-width="2"/>
<circle cx="70.75" cy="105.9" r="7.5" fill="#8e0b12"/><circle cx="71" cy="105" r="3" fill="#f2836f"/>
<circle cx="104" cy="106.5" r="15" fill="#8e0b12" stroke="#f5b0a0" stroke-width="1"/><circle cx="103.5" cy="106" r="8" fill="#f2836f"/><circle cx="106.5" cy="108.5" r="2.6" fill="#111"/>
<circle cx="158.25" cy="102.4" r="21.5" fill="#f0938a"/><circle cx="158.25" cy="102.4" r="18.5" fill="#8e0b12"/><circle cx="162" cy="106.5" r="7.5" fill="#f2836f"/><circle cx="163.3" cy="107.4" r="2.5" fill="#111"/>
<circle cx="232.5" cy="103" r="29.7" fill="#f0938a"/><circle cx="232.5" cy="103" r="26.6" fill="#8e0b12"/>
<path d="M212.4,101.2 C212.8,99.1 213.3,91.3 214.6,88.1 C215.8,84.9 217.6,83.3 219.9,82.0 C222.2,80.7 225.5,80.1 228.6,80.2 C231.7,80.4 235.2,81.4 238.2,82.9 C241.3,84.4 244.7,86.7 247.0,89.0 C249.3,91.3 251.4,94.3 252.2,96.9 C253.1,99.5 253.1,103.3 252.2,104.8 C251.4,106.2 249.3,105.9 247.0,105.6 C244.7,105.3 240.9,103.1 238.2,103.0 C235.6,102.9 233.1,103.7 231.2,104.8 C229.4,105.8 228.1,107.3 226.9,109.1 C225.7,110.8 225.6,114.1 224.2,115.2 C222.9,116.4 220.8,116.8 219.0,116.1 C217.2,115.4 214.8,113.4 213.8,110.9 C212.7,108.4 212.3,105.0 212.4,101.2 C212.5,97.5 213.3,91.3 214.6,88.1 C215.8,84.9 219.0,83.0 219.9,82.0" fill="#90c8f8"/>
<circle cx="237.4" cy="113.5" r="7.8" fill="#c23a2a"/><circle cx="237.4" cy="113.5" r="6.4" fill="#f7a07c"/><circle cx="237.8" cy="115" r="2.4" fill="#111"/>
<circle cx="315.4" cy="95.2" r="38.3" fill="#f0938a"/><circle cx="315.4" cy="95.2" r="34.2" fill="#8e0b12"/>
<path d="M288.8,96.6 C289.2,94.3 289.8,86.7 291.0,82.8 C292.2,78.9 294.0,75.9 296.2,73.2 C298.5,70.6 301.6,68.3 304.8,66.9 C307.9,65.5 311.9,64.8 315.4,64.8 C318.9,64.8 322.6,65.5 326.0,66.9 C329.4,68.3 332.9,70.4 335.6,73.2 C338.3,76.1 340.4,80.4 342.0,83.9 C343.6,87.4 344.9,91.3 345.1,94.5 C345.3,97.7 344.4,101.0 343.0,103.0 C341.6,105.0 339.1,106.0 336.6,106.2 C334.1,106.4 330.8,104.3 328.1,104.1 C325.5,103.9 322.6,103.9 320.7,105.1 C318.8,106.3 318.0,109.4 316.4,111.5 C314.8,113.6 313.4,116.8 311.1,117.9 C308.8,119.0 305.4,118.8 302.6,117.9 C299.8,117.0 296.2,114.7 294.1,112.6 C292.0,110.5 290.8,107.8 289.9,105.1 C289.0,102.4 288.6,100.3 288.8,96.6 C289.0,92.9 289.8,86.7 291.0,82.8 C292.2,78.9 295.4,74.8 296.2,73.2" fill="#90c8f8"/>
<circle cx="328.1" cy="114.7" r="7.8" fill="#c23a2a"/><circle cx="328.1" cy="114.7" r="6.4" fill="#f7a07c"/><circle cx="328.7" cy="115.6" r="2.4" fill="#111"/>
<path d="M428.0,63.0 L420.0,61.0 L410.0,62.0 L402.0,59.0 L393.0,56.0 L380.0,56.0 L378.0,62.0 L375.0,72.0 L366.0,81.0 L364.0,89.0 L372.0,96.0 L371.0,104.0 L373.0,112.0 L374.0,122.0 L378.0,130.0 L390.0,131.0 L405.0,129.0 L416.0,125.0 L428.0,121.0 L436.0,116.0 L432.0,99.0 L425.0,102.0 L416.0,106.0 L405.0,109.0 L398.0,109.0 L394.0,106.0 L390.0,99.0 L392.0,94.0 L391.0,88.0 L393.0,82.0 L400.0,81.0 L408.0,83.0 L420.0,85.0 L432.0,83.0 Z" fill="#f39080"/>
<path d="M429.0,67.0 L420.0,65.0 L410.0,64.5 L402.0,62.0 L393.0,60.0 L383.0,59.5 L380.0,65.0 L378.0,74.0 L370.0,83.0 L368.0,90.0 L375.0,97.0 L374.0,105.0 L376.0,114.0 L377.0,122.0 L381.0,128.0 L390.0,129.0 L405.0,127.0 L416.0,123.0 L428.0,118.0 L435.0,113.0 L432.0,99.0 L425.0,102.0 L416.0,106.0 L405.0,109.0 L398.0,109.0 L394.0,106.0 L390.0,99.0 L392.0,94.0 L391.0,88.0 L393.0,82.0 L400.0,81.0 L408.0,83.0 L420.0,85.0 L432.0,83.0 Z" fill="#8e0b12"/>
<path d="M430.0,75.0 L420.0,75.0 L408.0,74.0 L400.0,70.0 L390.0,68.0 L387.0,71.0 L385.0,78.0 L377.0,86.0 L383.0,94.0 L382.0,104.0 L386.0,112.0 L388.0,117.0 L395.0,119.0 L405.0,119.0 L416.0,116.0 L425.0,111.0 L432.0,107.0 L432.0,99.0 L425.0,102.0 L416.0,106.0 L405.0,109.0 L398.0,109.0 L394.0,106.0 L390.0,99.0 L392.0,94.0 L391.0,88.0 L393.0,82.0 L400.0,81.0 L408.0,83.0 L420.0,85.0 L432.0,83.0 Z" fill="#fdfa00"/>
<circle cx="443.5" cy="94.8" r="6.6" fill="#8e0b12"/><circle cx="443" cy="94.5" r="3.2" fill="#f2836f"/>
<line x1="445" y1="105" x2="445" y2="128.5" stroke="#111" stroke-width="3.2"/>
<path d="M462.8,97.7 C463.2,95.8 463.5,89.7 465.0,86.4 C466.4,83.1 468.7,80.2 471.5,78.0 C474.2,75.7 477.3,74.1 481.6,73.0 C485.9,72.0 492.0,71.3 497.5,71.6 C503.0,72.0 508.6,73.6 514.9,75.2 C521.1,76.7 529.3,78.9 535.1,80.8 C540.9,82.7 545.7,84.1 549.6,86.4 C553.4,88.8 556.5,91.6 558.2,94.9 C559.9,98.2 560.2,102.2 559.7,106.2 C559.2,110.2 557.8,115.3 555.3,118.9 C552.9,122.4 549.6,125.4 545.2,127.3 C540.9,129.2 534.9,130.4 529.3,130.1 C523.8,129.9 518.0,127.8 512.0,125.9 C505.9,124.0 499.4,121.2 493.2,118.9 C486.9,116.5 479.1,114.2 474.4,111.8 C469.7,109.5 466.9,107.1 465.0,104.8 C463.0,102.4 462.8,100.8 462.8,97.7 C462.8,94.7 463.5,89.7 465.0,86.4 C466.4,83.1 470.4,79.4 471.5,78.0" fill="#fdfa00" stroke="#8e0b12" stroke-width="3.6"/>
<path d="M492.5,105.0 C493.1,104.3 493.6,102.2 496.0,101.0 C498.4,99.8 506.0,99.0 507.0,97.5 C508.0,96.0 503.1,93.7 502.0,92.0 C500.9,90.3 500.0,88.5 500.5,87.5 C501.0,86.5 502.8,85.2 505.0,86.0 C507.2,86.8 511.9,91.7 514.0,92.0 C516.1,92.3 516.2,88.1 517.5,88.0 C518.8,87.9 519.4,91.4 521.5,91.5 C523.6,91.6 527.2,88.8 530.0,88.5 C532.8,88.2 537.2,88.9 538.5,90.0 C539.8,91.1 539.8,93.4 538.0,95.0 C536.2,96.6 528.2,98.1 528.0,99.5 C527.8,100.9 534.8,102.2 536.5,103.5 C538.2,104.8 538.6,106.5 538.0,107.5 C537.4,108.5 535.7,109.9 533.0,109.5 C530.3,109.1 524.1,104.8 522.0,105.0 C519.9,105.2 521.4,109.2 520.5,110.5 C519.6,111.8 517.8,112.5 516.5,112.5 C515.2,112.5 513.3,111.8 512.5,110.5 C511.7,109.2 513.6,104.8 511.5,104.5 C509.4,104.2 502.9,107.8 500.0,108.5 C497.1,109.2 495.2,109.6 494.0,109.0 C492.8,108.4 492.2,106.3 492.5,105.0 C492.8,103.7 493.6,102.2 496.0,101.0 C498.4,99.8 505.2,98.1 507.0,97.5" fill="#8e0b12"/>
<path d="M576.8,97.7 C577.0,95.7 577.0,89.2 578.0,85.9 C579.0,82.6 580.6,79.8 582.8,77.7 C585.0,75.5 587.8,74.0 591.2,73.0 C594.6,71.9 598.7,71.1 603.1,71.2 C607.5,71.3 612.7,72.7 617.4,73.6 C622.2,74.5 627.4,75.2 631.8,76.5 C636.1,77.8 640.3,79.2 643.7,81.2 C647.1,83.2 650.0,85.5 652.1,88.2 C654.1,91.0 655.6,94.1 656.2,97.7 C656.8,101.2 656.5,105.9 655.6,109.4 C654.7,112.9 653.4,116.1 650.9,118.8 C648.3,121.5 644.3,124.3 640.1,125.8 C635.9,127.4 630.6,128.6 625.8,128.2 C621.0,127.8 615.8,125.3 611.5,123.5 C607.1,121.7 603.5,119.6 599.5,117.6 C595.5,115.7 591.0,113.7 587.6,111.8 C584.2,109.8 581.0,108.2 579.2,105.9 C577.4,103.5 577.0,101.0 576.8,97.7 C576.6,94.3 577.0,89.2 578.0,85.9 C579.0,82.6 582.0,79.0 582.8,77.7" fill="#fdfa00" stroke="#8e0b12" stroke-width="3.6"/>
<path d="M611.0,102.0 L614.0,100.0 L615.0,97.0 L618.0,99.5 L622.0,97.5 L623.5,100.5 L627.0,101.0 L626.0,104.5 L629.5,107.0 L625.5,108.5 L624.0,112.0 L620.5,110.0 L617.0,112.5 L616.0,109.0 L612.0,108.0 L614.0,105.0 Z" fill="#8e0b12" stroke="#8e0b12" stroke-width="1" stroke-linejoin="round"/>
<path d="M677.2,104.8 C677.8,102.6 678.6,95.8 680.8,92.0 C683.1,88.2 686.9,84.1 691.0,82.0 C695.1,79.8 700.1,79.2 705.5,79.1 C710.8,79.0 717.3,80.2 722.8,81.3 C728.4,82.3 733.9,83.3 738.7,85.5 C743.6,87.8 748.5,91.4 751.8,94.8 C755.0,98.2 757.1,102.4 758.3,106.2 C759.5,110.0 759.6,113.8 759.0,117.6 C758.4,121.4 757.3,125.7 754.7,129.0 C752.0,132.3 747.7,135.8 743.1,137.6 C738.5,139.3 732.2,140.6 727.2,139.7 C722.1,138.7 717.5,134.6 712.7,131.8 C707.9,129.1 703.0,125.4 698.2,123.3 C693.4,121.2 687.1,120.7 683.7,119.0 C680.4,117.4 679.0,115.7 678.0,113.3 C676.9,111.0 676.7,108.3 677.2,104.8 C677.7,101.2 678.6,95.8 680.8,92.0 C683.1,88.2 689.3,83.6 691.0,82.0" fill="#f28a7c" stroke="#8e0b12" stroke-width="3.5"/>
<path d="M684.8,97.0 C685.6,95.8 685.9,91.1 690.0,89.5 C694.1,87.9 703.2,87.0 709.5,87.2 C715.8,87.5 721.8,89.1 727.5,91.0 C733.2,92.9 740.2,95.5 744.0,98.5 C747.8,101.5 749.2,105.2 750.0,109.0 C750.8,112.8 750.2,117.8 748.5,121.0 C746.8,124.2 743.8,127.0 739.5,128.5 C735.2,130.0 728.0,131.0 723.0,130.0 C718.0,129.0 714.5,125.2 709.5,122.5 C704.5,119.8 697.0,116.2 693.0,113.5 C689.0,110.8 686.9,108.8 685.5,106.0 C684.1,103.2 684.0,99.8 684.8,97.0 C685.5,94.2 685.9,91.1 690.0,89.5 C694.1,87.9 706.2,87.6 709.5,87.2" fill="#90c8f8"/>
<text x="313" y="29" font-family='"Liberation Sans", sans-serif' font-size="34" font-weight="bold" fill="#141414" text-anchor="start" textLength="244.5" lengthAdjust="spacingAndGlyphs" >Ciclo Menstrual</text>
<text x="331.7" y="49.5" font-family='"Liberation Sans", sans-serif' font-size="19" font-weight="bold" fill="#7d1b2b" text-anchor="start" textLength="178" lengthAdjust="spacingAndGlyphs" >www.sexualidad.es</text>
<text transform="translate(41.5,170) rotate(-90)" x="0" y="0" font-family='"Liberation Serif", serif' font-size="29" fill="#111" textLength="80" lengthAdjust="spacingAndGlyphs">Ovario</text>
<text x="72.5" y="173.75" font-family='"Liberation Sans", sans-serif' font-size="19.5" font-weight="bold" fill="#222" text-anchor="start" textLength="78.75" lengthAdjust="spacingAndGlyphs" >Folículo</text>
<text x="210.5" y="167.3" font-family='"Liberation Sans", sans-serif' font-size="19.5" font-weight="bold" fill="#222" text-anchor="start" textLength="131" lengthAdjust="spacingAndGlyphs" >Maduración</text>
<text x="210.5" y="189" font-family='"Liberation Sans", sans-serif' font-size="19.5" font-weight="bold" fill="#222" text-anchor="start" textLength="119.7" lengthAdjust="spacingAndGlyphs" >del folículo</text>
<text x="361.7" y="179.2" font-family='"Liberation Sans", sans-serif' font-size="19.5" font-weight="bold" fill="#222" text-anchor="start" textLength="109.5" lengthAdjust="spacingAndGlyphs" >Ovulación</text>
<text x="421" y="149" font-family='"Liberation Sans", sans-serif' font-size="16" font-weight="normal" fill="#222" text-anchor="start" textLength="48" lengthAdjust="spacingAndGlyphs" >óvulo</text>
<text x="524" y="165" font-family='"Liberation Sans", sans-serif' font-size="19.5" font-weight="bold" fill="#222" text-anchor="start" textLength="78.5" lengthAdjust="spacingAndGlyphs" >Cuerpo</text>
<text x="524" y="189" font-family='"Liberation Sans", sans-serif' font-size="19.5" font-weight="bold" fill="#222" text-anchor="start" textLength="53.5" lengthAdjust="spacingAndGlyphs" >Lúteo</text>
<text x="646" y="165" font-family='"Liberation Sans", sans-serif' font-size="19.5" font-weight="bold" fill="#222" text-anchor="start" textLength="149" lengthAdjust="spacingAndGlyphs" >Degeneración</text>
<text x="646" y="189" font-family='"Liberation Sans", sans-serif' font-size="19.5" font-weight="bold" fill="#222" text-anchor="start" textLength="119" lengthAdjust="spacingAndGlyphs" >del c. lúteo</text>
<text x="6.65" y="253.4" font-family='"Liberation Serif", serif' font-size="31" font-weight="normal" fill="#111" text-anchor="start" textLength="60.35" lengthAdjust="spacingAndGlyphs" >37°C</text>
<text x="6.65" y="334.75" font-family='"Liberation Serif", serif' font-size="31" font-weight="normal" fill="#111" text-anchor="start" textLength="60.35" lengthAdjust="spacingAndGlyphs" >36°C</text>
<text x="115" y="285.75" font-family='"Liberation Sans", sans-serif' font-size="19.5" font-weight="normal" fill="#2a2a2a" text-anchor="start" textLength="210" lengthAdjust="spacingAndGlyphs" >Temperatura corporal</text>
<text x="235.6" y="405.6" font-family='"Liberation Sans", sans-serif' font-size="19.5" font-weight="normal" fill="#2535b5" text-anchor="start" textLength="80" lengthAdjust="spacingAndGlyphs" >Estradiol</text>
<text x="95" y="444.5" font-family='"Liberation Sans", sans-serif' font-size="19.5" font-weight="normal" fill="#e02828" text-anchor="start" textLength="164" lengthAdjust="spacingAndGlyphs" >Hormona Folículo</text>
<text x="95" y="470.5" font-family='"Liberation Sans", sans-serif' font-size="19.5" font-weight="normal" fill="#e02828" text-anchor="start" textLength="107.5" lengthAdjust="spacingAndGlyphs" >Estimulante</text>
<text x="359.5" y="387.6" font-family='"Liberation Sans", sans-serif' font-size="19.5" font-weight="normal" fill="#4cdc4c" text-anchor="start" textLength="205" lengthAdjust="spacingAndGlyphs" >Hormona Luteinizante</text>
<text x="615.5" y="409" font-family='"Liberation Sans", sans-serif' font-size="19.5" font-weight="normal" fill="#333" text-anchor="start" textLength="126" lengthAdjust="spacingAndGlyphs" >Progesterona</text>
<text transform="translate(46,552.6) rotate(-90)" x="0" y="0" font-family='"Liberation Serif", serif' font-size="29" fill="#111" textLength="120.60000000000002" lengthAdjust="spacingAndGlyphs">Hormonas</text>
<text transform="translate(49,829.7) rotate(-90)" x="0" y="0" font-family='"Liberation Serif", serif' font-size="29" fill="#111" textLength="138.20000000000005" lengthAdjust="spacingAndGlyphs">Endometrio</text>
<text x="67" y="920.5" font-family='"Liberation Serif", serif' font-size="31" fill="#111" text-anchor="middle" textLength="14" lengthAdjust="spacingAndGlyphs">1</text>
<text x="119.5" y="920.5" font-family='"Liberation Serif", serif' font-size="31" fill="#111" text-anchor="middle" textLength="14" lengthAdjust="spacingAndGlyphs">3</text>
<text x="175.5" y="920.5" font-family='"Liberation Serif", serif' font-size="31" fill="#111" text-anchor="middle" textLength="14" lengthAdjust="spacingAndGlyphs">5</text>
<text x="221" y="920.5" font-family='"Liberation Serif", serif' font-size="31" fill="#111" text-anchor="middle" textLength="14" lengthAdjust="spacingAndGlyphs">7</text>
<text x="276" y="920.5" font-family='"Liberation Serif", serif' font-size="31" fill="#111" text-anchor="middle" textLength="14" lengthAdjust="spacingAndGlyphs">9</text>
<text x="327.5" y="920.5" font-family='"Liberation Serif", serif' font-size="31" fill="#111" text-anchor="middle" textLength="27.5" lengthAdjust="spacingAndGlyphs">11</text>
<text x="383" y="920.5" font-family='"Liberation Serif", serif' font-size="31" fill="#111" text-anchor="middle" textLength="27.5" lengthAdjust="spacingAndGlyphs">13</text>
<text x="432" y="920.5" font-family='"Liberation Serif", serif' font-size="31" fill="#111" text-anchor="middle" textLength="27.5" lengthAdjust="spacingAndGlyphs">15</text>
<text x="481.5" y="920.5" font-family='"Liberation Serif", serif' font-size="31" fill="#111" text-anchor="middle" textLength="27.5" lengthAdjust="spacingAndGlyphs">17</text>
<text x="536" y="920.5" font-family='"Liberation Serif", serif' font-size="31" fill="#111" text-anchor="middle" textLength="27.5" lengthAdjust="spacingAndGlyphs">19</text>
<text x="582.5" y="920.5" font-family='"Liberation Serif", serif' font-size="31" fill="#111" text-anchor="middle" textLength="27.5" lengthAdjust="spacingAndGlyphs">21</text>
<text x="637.5" y="920.5" font-family='"Liberation Serif", serif' font-size="31" fill="#111" text-anchor="middle" textLength="27.5" lengthAdjust="spacingAndGlyphs">23</text>
<text x="688" y="920.5" font-family='"Liberation Serif", serif' font-size="31" fill="#111" text-anchor="middle" textLength="27.5" lengthAdjust="spacingAndGlyphs">25</text>
<text x="738.5" y="920.5" font-family='"Liberation Serif", serif' font-size="31" fill="#111" text-anchor="middle" textLength="27.5" lengthAdjust="spacingAndGlyphs">27</text>
<text x="91.2" y="942.5" font-family='"Liberation Serif", serif' font-size="31" fill="#111" text-anchor="middle" textLength="14" lengthAdjust="spacingAndGlyphs">2</text>
<text x="144" y="942.5" font-family='"Liberation Serif", serif' font-size="31" fill="#111" text-anchor="middle" textLength="14" lengthAdjust="spacingAndGlyphs">4</text>
<text x="199" y="942.5" font-family='"Liberation Serif", serif' font-size="31" fill="#111" text-anchor="middle" textLength="14" lengthAdjust="spacingAndGlyphs">6</text>
<text x="245.5" y="942.5" font-family='"Liberation Serif", serif' font-size="31" fill="#111" text-anchor="middle" textLength="14" lengthAdjust="spacingAndGlyphs">8</text>
<text x="302" y="942.5" font-family='"Liberation Serif", serif' font-size="31" fill="#111" text-anchor="middle" textLength="27.5" lengthAdjust="spacingAndGlyphs">10</text>
<text x="352.5" y="942.5" font-family='"Liberation Serif", serif' font-size="31" fill="#111" text-anchor="middle" textLength="27.5" lengthAdjust="spacingAndGlyphs">12</text>
<text x="407.5" y="942.5" font-family='"Liberation Serif", serif' font-size="31" fill="#111" text-anchor="middle" textLength="27.5" lengthAdjust="spacingAndGlyphs">14</text>
<text x="458.5" y="942.5" font-family='"Liberation Serif", serif' font-size="31" fill="#111" text-anchor="middle" textLength="27.5" lengthAdjust="spacingAndGlyphs">16</text>
<text x="506" y="942.5" font-family='"Liberation Serif", serif' font-size="31" fill="#111" text-anchor="middle" textLength="27.5" lengthAdjust="spacingAndGlyphs">18</text>
<text x="559.5" y="942.5" font-family='"Liberation Serif", serif' font-size="31" fill="#111" text-anchor="middle" textLength="27.5" lengthAdjust="spacingAndGlyphs">20</text>
<text x="610" y="942.5" font-family='"Liberation Serif", serif' font-size="31" fill="#111" text-anchor="middle" textLength="27.5" lengthAdjust="spacingAndGlyphs">22</text>
<text x="664" y="942.5" font-family='"Liberation Serif", serif' font-size="31" fill="#111" text-anchor="middle" textLength="27.5" lengthAdjust="spacingAndGlyphs">24</text>
<text x="712.5" y="942.5" font-family='"Liberation Serif", serif' font-size="31" fill="#111" text-anchor="middle" textLength="27.5" lengthAdjust="spacingAndGlyphs">26</text>
<text x="762.5" y="942.5" font-family='"Liberation Serif", serif' font-size="31" fill="#111" text-anchor="middle" textLength="27.5" lengthAdjust="spacingAndGlyphs">28</text>
<text x="282.7" y="970.8" font-family='"Liberation Sans", sans-serif' font-size="20" font-weight="bold" fill="#1a1a1a" text-anchor="start" textLength="257.3" lengthAdjust="spacingAndGlyphs" >Días del ciclo menstrual</text>
</svg></body></html>
